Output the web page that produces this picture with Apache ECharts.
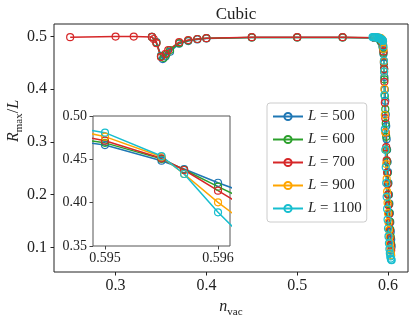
<!DOCTYPE html>
<html>
<head>
<meta charset="utf-8">
<script src="https://cdn.jsdelivr.net/npm/echarts@6/dist/echarts.min.js"></script>
<style>html,body{margin:0;padding:0;background:#fff}#c{width:415px;height:320px}</style>
</head>
<body>
<div id="c"></div>
<script>
const seriesNames = ['L = 500', 'L = 600', 'L = 700', 'L = 900', 'L = 1100'];
const colors = ['#1f77b4', '#2ca02c', '#d62728', '#ffa500', '#17becf'];

const x500 = [0.34, 0.345, 0.35, 0.352, 0.355, 0.36, 0.37, 0.38, 0.39, 0.40, 0.45, 0.50, 0.55, 0.585, 0.59, 0.592, 0.594, 0.5945, 0.595, 0.5955, 0.5957, 0.596, 0.5965, 0.597, 0.5975, 0.598, 0.5985, 0.599, 0.5995, 0.600, 0.6005, 0.601, 0.6015, 0.602, 0.6025, 0.603, 0.6035, 0.604];
const y500 = [0.499, 0.489, 0.463, 0.457, 0.462, 0.471, 0.486, 0.491, 0.494, 0.496, 0.498, 0.498, 0.498, 0.497, 0.495, 0.49, 0.48, 0.4755, 0.4665, 0.4484, 0.4388, 0.423, 0.399, 0.378, 0.352, 0.33, 0.305, 0.285, 0.262, 0.243, 0.222, 0.2, 0.183, 0.165, 0.148, 0.13, 0.115, 0.102];

const x600 = [0.34, 0.345, 0.35, 0.353, 0.356, 0.36, 0.37, 0.38, 0.39, 0.40, 0.45, 0.50, 0.55, 0.585, 0.59, 0.592, 0.594, 0.5945, 0.595, 0.5955, 0.5957, 0.596, 0.5965, 0.597, 0.5975, 0.598, 0.5985, 0.599, 0.5995, 0.600, 0.6005, 0.601, 0.6015, 0.602, 0.6025, 0.603, 0.6035];
const y600 = [0.499, 0.488, 0.462, 0.459, 0.466, 0.474, 0.487, 0.492, 0.495, 0.4965, 0.498, 0.498, 0.498, 0.4975, 0.4955, 0.491, 0.482, 0.478, 0.469, 0.4505, 0.438, 0.4185, 0.387, 0.362, 0.335, 0.31, 0.285, 0.263, 0.241, 0.221, 0.2, 0.182, 0.165, 0.149, 0.134, 0.12, 0.106];

const x700 = [0.25, 0.30, 0.32, 0.34, 0.342, 0.345, 0.35, 0.355, 0.358, 0.37, 0.38, 0.39, 0.40, 0.45, 0.50, 0.55, 0.585, 0.59, 0.592, 0.594, 0.5945, 0.595, 0.5955, 0.5957, 0.596, 0.5965, 0.597, 0.5975, 0.598, 0.5985, 0.599, 0.5995, 0.600, 0.6005, 0.601, 0.6015, 0.602, 0.6025, 0.603, 0.6035];
const y700 = [0.4985, 0.4995, 0.4995, 0.499, 0.495, 0.487, 0.461, 0.467, 0.474, 0.489, 0.493, 0.495, 0.4965, 0.4985, 0.4985, 0.4985, 0.4975, 0.4965, 0.494, 0.489, 0.484, 0.4715, 0.4512, 0.4377, 0.4138, 0.374, 0.345, 0.318, 0.29, 0.265, 0.242, 0.22, 0.2, 0.18, 0.163, 0.147, 0.132, 0.118, 0.105, 0.095];

const x900 = [0.586, 0.588, 0.59, 0.591, 0.592, 0.593, 0.594, 0.5945, 0.595, 0.5955, 0.5957, 0.596, 0.5965, 0.597, 0.5975, 0.598, 0.5985, 0.599, 0.5995, 0.600, 0.6005, 0.601, 0.6015, 0.602, 0.6025, 0.603, 0.6035];
const y900 = [0.498, 0.498, 0.4975, 0.497, 0.4965, 0.495, 0.493, 0.49, 0.4762, 0.453, 0.4331, 0.4004, 0.351, 0.318, 0.285, 0.258, 0.23, 0.206, 0.185, 0.165, 0.148, 0.133, 0.12, 0.108, 0.098, 0.09, 0.085];

const x1100 = [0.583, 0.584, 0.585, 0.586, 0.587, 0.588, 0.589, 0.59, 0.5905, 0.591, 0.5915, 0.592, 0.5925, 0.593, 0.5935, 0.594, 0.5945, 0.595, 0.5955, 0.5957, 0.596, 0.5965, 0.597, 0.5975, 0.598, 0.5985, 0.599, 0.5995, 0.600, 0.6005, 0.601, 0.6015, 0.602, 0.6025, 0.603, 0.6035, 0.604];
const y1100 = [0.4985, 0.4985, 0.4985, 0.498, 0.498, 0.498, 0.4975, 0.497, 0.4965, 0.496, 0.4955, 0.495, 0.4945, 0.494, 0.4935, 0.4925, 0.4912, 0.4808, 0.4538, 0.4331, 0.3889, 0.3245, 0.285, 0.252, 0.222, 0.196, 0.173, 0.153, 0.136, 0.121, 0.108, 0.097, 0.089, 0.083, 0.079, 0.077, 0.076];

const mainXTicks = [0.3, 0.4, 0.5, 0.6];
const mainYTicks = [0.1, 0.2, 0.3, 0.4, 0.5];
const insetXTicks = [0.595, 0.596];
const insetYTicks = [0.35, 0.40, 0.45, 0.50];

const xs = [x500, x600, x700, x900, x1100];
const ys = [y500, y600, y700, y900, y1100];

const FONT = "'Liberation Serif', 'DejaVu Serif', serif";
const TXT = '#222';

function mkSeries(i, axisIdx) {
  return {
    type: 'line',
    name: seriesNames[i],
    xAxisIndex: axisIdx, yAxisIndex: axisIdx,
    data: xs[i].map((x, k) => [x, ys[i][k]]),
    color: colors[i],
    symbol: 'circle',
    symbolSize: 7,
    showAllSymbol: true,
    clip: true,
    itemStyle: { color: 'rgba(255,255,255,0)', borderColor: colors[i], borderWidth: 1.2 },
    lineStyle: { color: colors[i], width: 1.5 },
    emphasis: { disabled: true },
    z: 2 + (axisIdx ? 10 : 0)
  };
}

const series = [];
for (let i = 0; i < 5; i++) series.push(mkSeries(i, 0));
for (let i = 0; i < 5; i++) series.push(mkSeries(i, 1));

const chart = echarts.init(document.getElementById('c'), null, { renderer: 'canvas' });
chart.setOption({
  animation: false,
  backgroundColor: '#fff',
  title: {
    text: 'Cubic', left: 231, top: 1, textAlign: 'center',
    textStyle: { fontFamily: FONT, fontSize: 17, fontWeight: 'normal', color: TXT }
  },
  legend: {
    orient: 'vertical', left: 267, top: 103,
    data: seriesNames,
    padding: [6, 5, 6, 5], itemGap: 8, itemWidth: 30, itemHeight: 9,
    backgroundColor: '#fff', borderColor: '#ccc', borderWidth: 1, borderRadius: 3,
    formatter: name => '{i|L}{n|' + name.slice(1) + '}',
    textStyle: {
      fontFamily: FONT, fontSize: 15, color: TXT,
      rich: { i: { fontStyle: 'italic', fontFamily: FONT, fontSize: 15, color: TXT }, n: { fontFamily: FONT, fontSize: 15, color: TXT } }
    },
    z: 20
  },
  grid: [
    { left: 54, top: 24, width: 354, height: 248, show: true, borderColor: '#222', borderWidth: 1, backgroundColor: 'transparent', containLabel: false, outerBoundsMode: 'none' },
    { left: 93, top: 116, width: 137, height: 130, show: true, borderColor: '#555', borderWidth: 1, backgroundColor: '#fff', z: 10, containLabel: false, outerBoundsMode: 'none' }
  ],
  xAxis: [
    {
      type: 'value', gridIndex: 0, min: 0.2322, max: 0.622,
      splitLine: { show: false },
      axisLine: { show: false },
      axisTick: { show: true, length: 3.5, inside: false, customValues: mainXTicks, lineStyle: { color: '#222' } },
      axisLabel: { customValues: mainXTicks, formatter: v => v.toFixed(1), margin: 6, fontFamily: FONT, fontSize: 16, color: TXT },
      name: '{i|n}{s|vac}', nameLocation: 'middle', nameGap: 23,
      nameTextStyle: { rich: { i: { fontStyle: 'italic', fontFamily: FONT, fontSize: 16, color: TXT, verticalAlign: 'bottom' }, s: { fontFamily: FONT, fontSize: 11, color: TXT, verticalAlign: 'bottom', padding: [0, 0, -3, 0] } } }
    },
    {
      type: 'value', gridIndex: 1, min: 0.594894, max: 0.596106,
      splitLine: { show: false },
      axisLine: { show: false },
      axisTick: { show: true, length: 3.5, customValues: insetXTicks, lineStyle: { color: '#444' } },
      axisLabel: { customValues: insetXTicks, formatter: v => v.toFixed(3), margin: 5, fontFamily: FONT, fontSize: 14, color: TXT },
      z: 10
    }
  ],
  yAxis: [
    {
      type: 'value', gridIndex: 0, min: 0.0536, max: 0.5234,
      splitLine: { show: false },
      axisLine: { show: false },
      axisTick: { show: true, length: 3.5, customValues: mainYTicks, lineStyle: { color: '#222' } },
      axisLabel: { customValues: mainYTicks, formatter: v => v.toFixed(1), margin: 7, fontFamily: FONT, fontSize: 16, color: TXT },
      name: '{i|R}{s|max}{n|/}{i|L}', nameLocation: 'middle', nameGap: 32, nameRotate: 90, nameMoveOverlap: false,
      nameTextStyle: { padding: [0, 0, 0, 54], rich: { i: { fontStyle: 'italic', fontFamily: FONT, fontSize: 16, color: TXT, verticalAlign: 'bottom' }, n: { fontFamily: FONT, fontSize: 16, color: TXT, verticalAlign: 'bottom' }, s: { fontFamily: FONT, fontSize: 11, color: TXT, verticalAlign: 'bottom', padding: [0, 0, -3, 0] } } }
    },
    {
      type: 'value', gridIndex: 1, min: 0.35, max: 0.50, interval: 0.05,
      splitLine: { show: false },
      axisLine: { show: false },
      axisTick: { show: true, length: 3.5, customValues: insetYTicks, lineStyle: { color: '#444' } },
      axisLabel: { customValues: insetYTicks, formatter: v => v.toFixed(2), margin: 6, fontFamily: FONT, fontSize: 14, color: TXT },
      z: 10
    }
  ],
  series: series
});
</script>
</body>
</html>
